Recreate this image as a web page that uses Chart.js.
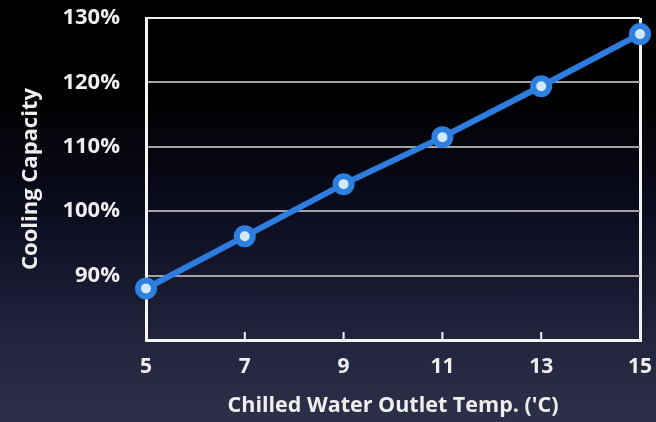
<!DOCTYPE html>
<html lang="en">
<head>
    <meta charset="UTF-8">
    <title>Cooling Capacity</title>
    <script src="https://cdn.jsdelivr.net/npm/chart.js"></script>
    <style>
        body { margin: 0; }
        .quadro {
            width: 656px;
            height: 422px;
            background: linear-gradient(to bottom, #000 0%, #000 22%, #0b0c1e 50%, #22233c 80%, #2e2f48 100%);
        }
    </style>
</head>
<body>
    <div class="quadro">
        <canvas id="capChart" width="656" height="422"></canvas>
    </div>

<script>
    // temperatura da agua gelada na saida (C)
    var temperaturas = [5, 7, 9, 11, 13, 15];
    // capacidade de refrigeracao (%)
    var capacidade = [88, 96.1, 104.2, 111.5, 119.4, 127.5];
    var ticksX = [5, 7, 9, 11, 13, 15];
    var ticksY = [90, 100, 110, 120, 130];

    var fonte = "'Open Sans', 'DejaVu Sans', sans-serif";

    // zera o espaco extra que a escala pede para os rotulos
    function semPadding(s) {
        s.paddingTop = 0;
        s.paddingBottom = 0;
        s.paddingLeft = 0;
        s.paddingRight = 0;
    }

    // marquinhas do eixo x, para dentro do grafico
    const marcasX = {
        id: 'marcasX',
        afterDatasetsDraw(chart) {
            const { ctx, scales: { x }, chartArea } = chart;
            ctx.save();
            ctx.strokeStyle = '#f2f2f2';
            ctx.lineWidth = 2;
            ticksX.forEach(function (t) {
                if (t === x.min || t === x.max) return;
                var px = x.getPixelForValue(t);
                ctx.beginPath();
                ctx.moveTo(px, chartArea.bottom);
                ctx.lineTo(px, chartArea.bottom - 8);
                ctx.stroke();
            });
            ctx.restore();
        }
    };

    const ctx = document.getElementById("capChart");
    new Chart(ctx, {
        type: "line",
        data: {
            datasets: [{
                data: temperaturas.map((t, i) => ({ x: t, y: capacidade[i] })),
                borderColor: '#2c7ddf',
                borderWidth: 6,
                pointRadius: 8,
                pointBorderWidth: 6,
                pointBorderColor: '#2e80e0',
                pointBackgroundColor: '#d2e8ff',
                tension: 0,
                clip: false
            }]
        },
        options: {
            responsive: false,
            animation: false,
            layout: { padding: { top: 18, right: 16, left: 0, bottom: 0 } },
            plugins: {
                legend: { display: false },
                tooltip: { enabled: false }
            },
            scales: {
                x: {
                    type: 'linear',
                    min: 5,
                    max: 15,
                    afterFit: (s) => { s.height = 82; semPadding(s); },
                    afterBuildTicks: (s) => { s.ticks = ticksX.map(v => ({ value: v })); },
                    ticks: {
                        color: '#eeeeee',
                        padding: 14,
                        font: { family: fonte, size: 21, weight: 'bold' }
                    },
                    grid: {
                        drawTicks: false,
                        lineWidth: 3,
                        color: (c) => c.tick && c.tick.value === 15 ? '#f0f0f0' : 'rgba(0,0,0,0)'
                    },
                    border: { color: '#f4f4f4', width: 3 },
                    title: {
                        display: true,
                        text: "Chilled Water Outlet Temp. ('C)",
                        color: '#eeeeee',
                        padding: { bottom: 3 },
                        font: { family: fonte, size: 21.5, weight: 'bold' }
                    }
                },
                y: {
                    min: 80,
                    max: 130,
                    afterFit: (s) => { s.width = 146; semPadding(s); },
                    afterBuildTicks: (s) => { s.ticks = [80].concat(ticksY).map(v => ({ value: v })); },
                    ticks: {
                        color: '#eeeeee',
                        padding: 26,
                        font: { family: fonte, size: 22, weight: 'bold' },
                        callback: (v) => v === 80 ? '' : v + '%'
                    },
                    grid: {
                        drawTicks: false,
                        lineWidth: 2,
                        color: (c) => {
                            if (!c.tick) return 'rgba(0,0,0,0)';
                            if (c.tick.value === 80) return 'rgba(0,0,0,0)';
                            if (c.tick.value === 130) return '#eeeeee';
                            return '#a3a3a3';
                        }
                    },
                    border: { color: '#f4f4f4', width: 3 },
                    title: {
                        display: true,
                        text: 'Cooling Capacity',
                        color: '#eeeeee',
                        padding: { top: 18 },
                        font: { family: fonte, size: 22, weight: 'bold' }
                    }
                }
            }
        },
        plugins: [marcasX]
    });
</script>
</body>
</html>
